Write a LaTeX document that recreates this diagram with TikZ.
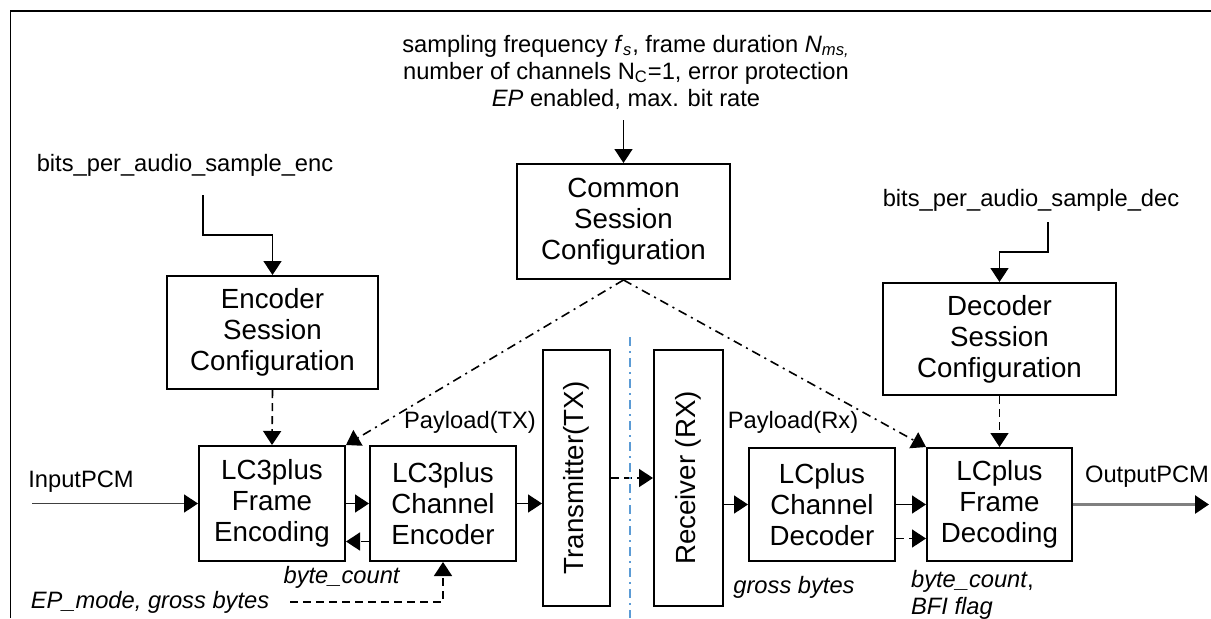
\documentclass[tikz,border=0pt]{standalone}
\usepackage{fontspec}
\setmainfont{Liberation Sans}
\usepackage{tikz}
\usetikzlibrary{arrows.meta}
\newcommand{\boxfont}{\fontsize{13.85pt}{15.5pt}\selectfont}
\newcommand{\lblfont}{\fontsize{11.85pt}{13.5pt}\selectfont}
\definecolor{sepblue}{RGB}{91,155,213}
\tikzstyle{arrow} = [line width=0.8pt,-{Triangle[length=7pt,width=9pt,color=black]}]
\tikzstyle{dasharrow} = [arrow,dash pattern=on 4pt off 2.5pt]
\tikzstyle{dotarrow} = [arrow,dash pattern=on 4.5pt off 2.5pt on 1pt off 2.5pt]
\tikzstyle{block} = [draw,line width=1pt,align=center,inner sep=0pt,font=\boxfont]
\tikzstyle{lbl} = [font=\lblfont,align=center]

\begin{document}
\begin{tikzpicture}[x=0.5pt,y=-0.5pt]
		\useasboundingbox (0,0) rectangle (1211,618);
		\draw[line width=0.8pt] (10.5,618) -- (10.5,11) -- (1211,11);
		% configuration blocks
		\node[block,minimum width=106.5pt,minimum height=57.5pt] (common) at (623.5,221.5) {Common\\Session\\Configuration};
		\node[block,minimum width=105.5pt,minimum height=56.5pt] (encconf) at (272.5,332.5) {Encoder\\Session\\Configuration};
		\node[block,minimum width=116.5pt,minimum height=56pt] (decconf) at (999.5,339) {Decoder\\Session\\Configuration};
		% processing chain
		\node[block,minimum width=73pt,minimum height=57.5pt] (frenc) at (272,503.5) {LC3plus\\Frame\\Encoding};
		\node[block,minimum width=73pt,minimum height=57.5pt] (chenc) at (443,503.5) {LC3plus\\Channel\\Encoder};
		\node[block,rotate=90,minimum width=128pt,minimum height=33.5pt] (tx) at (576.5,478) {Transmitter(TX)};
		\node[block,rotate=90,minimum width=128pt,minimum height=34.5pt] (rx) at (688.5,478) {Receiver (RX)};
		\node[block,minimum width=73pt,minimum height=56.5pt] (chdec) at (822,504.5) {LCplus\\Channel\\Decoder};
		\node[block,minimum width=72.5pt,minimum height=56.5pt] (frdec) at (999.5,504.5) {LCplus\\Frame\\Decoding};
		% labels
		\node[lbl] (params) at (626,72) {sampling frequency \textit{f}\textsubscript{\textit{s}}, frame duration \textit{N\textsubscript{ms,}}\\number of channels N\textsubscript{C}=1, error protection\\\textit{EP} enabled, max. bit rate};
		\node[lbl] (encbits) at (185,165) {bits\_per\_audio\_sample\_enc};
		\node[lbl] (decbits) at (1031,200) {bits\_per\_audio\_sample\_dec};
		\node[lbl] (inpcm) at (81,482) {InputPCM};
		\node[lbl] (outpcm) at (1147,477) {OutputPCM};
		\node[lbl] (paytx) at (470,422) {Payload(TX)};
		\node[lbl] (payrx) at (793,422) {Payload(Rx)};
		\node[lbl] (bcenc) at (342,577) {\textit{byte\_count}};
		\node[lbl] (epmode) at (150,602) {\textit{EP\_mode, gross bytes}};
		\node[lbl] (gross) at (794,587) {\textit{gross bytes}};
		\node[lbl,align=left,anchor=west] (bcdec) at (904,595) {\textit{byte\_count},\\\textit{BFI flag}};
		% free ends
		\coordinate (topin) at (623.5,120);
		\coordinate (encin) at (203,195);
		\coordinate (decin) at (1048,222);
		\coordinate (pcmin) at (32,503.5);
		\coordinate (pcmout) at (1209,504.5);
		% connectors
		\draw[arrow] (topin) -- (common.north);
		\draw[arrow] (encin) -- ++(0,40) -| (encconf.north);
		\draw[arrow] (decin) -- ++(0,30) -| (decconf.north);
		\draw[dasharrow] (encconf.south) -- (frenc.north);
		\draw[dasharrow] (decconf.south) -- (frdec.north);
		\draw[dotarrow] (common.south) -- (frenc.north east);
		\draw[dotarrow] (common.south) -- (frdec.north west);
		\draw[arrow,draw=black!75] (pcmin) -- (frenc.west);
		\draw[arrow] (frenc.east) -- (chenc.west);
		\draw[dasharrow] ([yshift=-19pt]chenc.west) -- ([yshift=-19pt]frenc.east);
		\draw[arrow] (chenc.east) -- (chenc.east -| tx.north);
		\draw[dasharrow] (tx.south) -- (rx.north);
		\draw[arrow] (rx.south |- chdec.west) -- (chdec.west);
		\draw[arrow] (chdec.east) -- (frdec.west);
		\draw[dasharrow] ([yshift=-17pt]chdec.east) -- ([yshift=-17pt]frdec.west);
		\draw[arrow,draw=gray,line width=1.3pt] (frdec.east) -- (pcmout);
		\draw[dasharrow] ([xshift=7pt]epmode.east) -| (chenc.south);
		\draw[sepblue,line width=0.6pt,dash pattern=on 4.5pt off 2.5pt on 1pt off 2.5pt] (630,337) -- (630,618);
	\end{tikzpicture}
\end{document}
